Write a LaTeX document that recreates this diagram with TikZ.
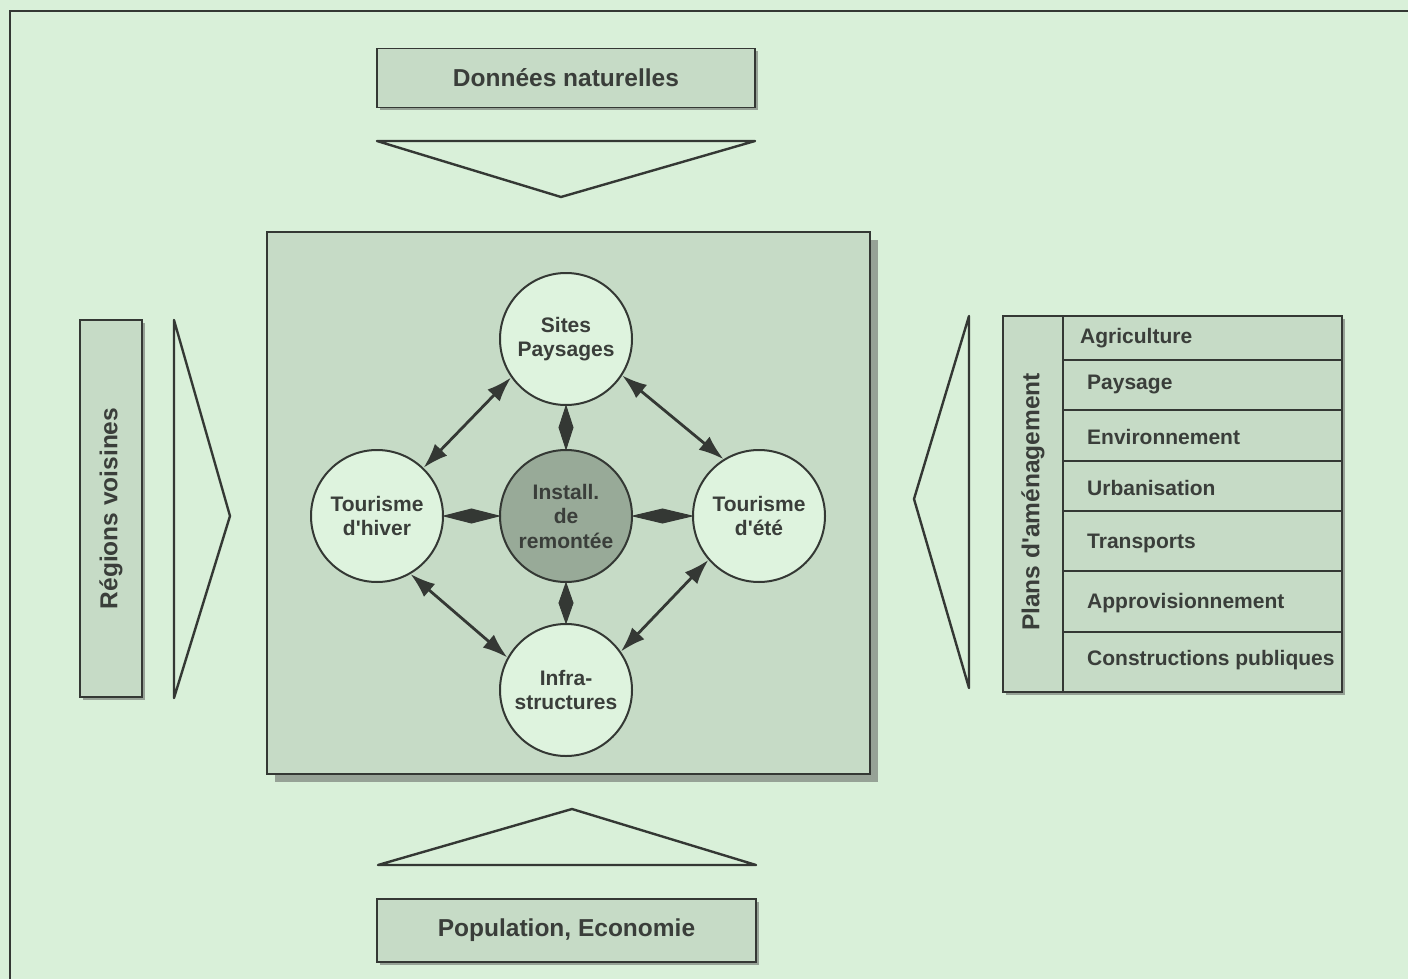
\documentclass[tikz,border=0pt]{standalone}
\usepackage{fontspec}
\setmainfont{Liberation Sans}
\usetikzlibrary{arrows.meta,positioning,shapes,shadows,calc}
\definecolor{fond}{RGB}{217,240,217}
\definecolor{boite}{RGB}{198,219,198}
\definecolor{ombre}{RGB}{150,162,150}
\definecolor{trait}{RGB}{52,56,52}
\definecolor{encre}{RGB}{58,62,58}
\definecolor{rond}{RGB}{222,243,222}
\definecolor{centre}{RGB}{152,170,152}

\begin{document}
\begin{tikzpicture}[x=1pt, y=-1pt,
  titre/.style={draw=trait, line width=1.8pt, fill=boite, inner sep=0pt, text=encre,
    font=\bfseries\fontsize{24.5}{29}\selectfont,
    drop shadow={fill=ombre, opacity=1, shadow xshift=3pt, shadow yshift=-3pt}},
  pole/.style={circle, draw=trait, line width=2pt, fill=rond, minimum size=132pt,
    inner sep=0pt, align=center, text=encre, font=\bfseries\fontsize{21}{24.5}\selectfont},
  rubrique/.style={anchor=west, inner sep=0pt, text=encre, font=\bfseries\fontsize{21}{24.5}\selectfont},
  lien/.style={{Latex[length=25pt,width=17pt]}-{Latex[length=25pt,width=17pt]},
    line width=2.8pt, draw=trait},
  losange/.style={fill=trait, draw=trait, line width=1pt, line join=miter},
  fleche/.style={draw=trait, line width=2.4pt, line join=round}]

  \useasboundingbox (0,0) rectangle (1408,979);
  \fill[fond] (0,0) rectangle (1408,979);
  \draw[trait, line width=2.5pt] (1408,11) -- (10,11) -- (10,979);

  % Entrees
  \node[titre, minimum width=378pt, minimum height=59pt] (donnees) at (566,78) {Données naturelles};
  \node[titre, minimum width=379pt, minimum height=63pt] (pop) at (566.5,930.5) {Population, Economie};
  \node[titre, minimum width=62pt, minimum height=377pt] (regions) at (111,508.5) {};
  \node[rotate=90, text=encre, inner sep=0pt, font=\bfseries\fontsize{24.5}{29}\selectfont] (regt) at (regions) {Régions voisines};

  \draw[fleche] (377,141) -- (755,141) -- (561,197) -- cycle;
  \draw[fleche] (378,865) -- (756,865) -- (572,809) -- cycle;
  \draw[fleche] (174,320) -- (230,516) -- (174,698) -- cycle;
  \draw[fleche] (969,316) -- (914,499) -- (969,688) -- cycle;

  % Bloc central
  \node[draw=trait, line width=2pt, fill=boite, minimum width=603pt, minimum height=542pt,
    drop shadow={fill=ombre, opacity=1, shadow xshift=8pt, shadow yshift=-8pt}] (bloc) at (568.5,503) {};

  \node[pole] (sites) at (566,339) {Sites\\Paysages};
  \node[pole] (hiver) at (377,516) {Tourisme\\d\textquotesingle hiver};
  \node[pole, fill=centre] (install) at (566,516) {Install.\\de\\remontée};
  \node[pole] (ete) at (759,516) {Tourisme\\d\textquotesingle été};
  \node[pole] (infra) at (566,690) {Infra-\\structures};

  % liens courts vers le centre
  \draw[losange] (sites.south) -- ($(sites.south)!.5!(install.north)+(7,0)$) -- (install.north)
    -- ($(sites.south)!.5!(install.north)+(-7,0)$) -- cycle;
  \draw[losange] (install.south) -- ($(install.south)!.5!(infra.north)+(7,0)$) -- (infra.north)
    -- ($(install.south)!.5!(infra.north)+(-7,0)$) -- cycle;
  \draw[losange] (hiver.east) -- ($(hiver.east)!.5!(install.west)+(0,7)$) -- (install.west)
    -- ($(hiver.east)!.5!(install.west)+(0,-7)$) -- cycle;
  \draw[losange] (install.east) -- ($(install.east)!.5!(ete.west)+(0,7)$) -- (ete.west)
    -- ($(install.east)!.5!(ete.west)+(0,-7)$) -- cycle;

  \draw[lien] (sites.215) -- (hiver.46);
  \draw[lien] (sites.327) -- (ete.122);
  \draw[lien] (hiver.300) -- (infra.151);
  \draw[lien] (ete.221) -- (infra.35);

  % Plans d'amenagement
  \node[titre, minimum width=339pt, minimum height=376pt] (plans) at (1172.5,504) {};
  \node[rotate=90, text=encre, inner sep=0pt, font=\bfseries\fontsize{24.5}{29}\selectfont] (plt) at (1033,502) {Plans d\textquotesingle aménagement};
  \draw[trait, line width=1.8pt] (1063,316) -- (1063,692);
  \foreach \y in {360,410,461,511,571,632}
    \draw[trait, line width=1.8pt] (1063,\y) -- (1342,\y);

  \node[rubrique] (r1) at (1080,338) {Agriculture};
  \node[rubrique] (r2) at (1087,384) {Paysage};
  \node[rubrique] (r3) at (1087,437) {Environnement};
  \node[rubrique] (r4) at (1087,488) {Urbanisation};
  \node[rubrique] (r5) at (1087,543) {Transports};
  \node[rubrique] (r6) at (1087,603) {Approvisionnement};
  \node[rubrique] (r7) at (1087,660) {Constructions publiques};
\end{tikzpicture}
\end{document}
